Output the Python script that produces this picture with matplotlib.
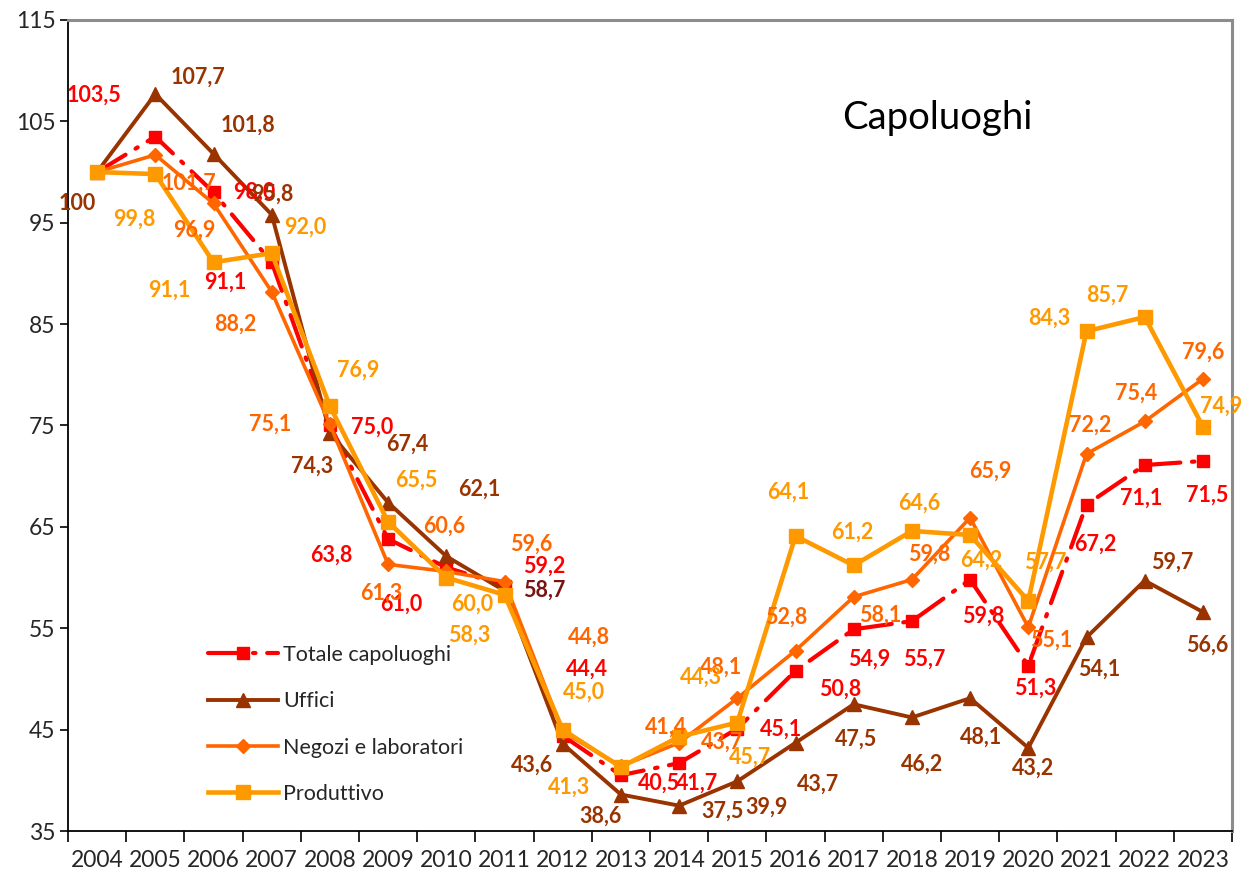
import matplotlib
matplotlib.use('Agg')
import matplotlib.pyplot as plt
from matplotlib.ticker import FixedLocator, NullFormatter, FixedFormatter

plt.rcParams['font.family'] = ['Lato', 'DejaVu Sans']

# ---------------- data ----------------
years = [str(y) for y in range(2004, 2024)]
totale = [100, 103.5, 98.0, 91.1, 75.0, 63.8, 61.0, 59.2, 44.4, 40.5, 41.7, 45.1,
          50.8, 54.9, 55.7, 59.8, 51.3, 67.2, 71.1, 71.5]
uffici = [100, 107.7, 101.8, 95.8, 74.3, 67.4, 62.1, 58.7, 43.6, 38.6, 37.5, 39.9,
          43.7, 47.5, 46.2, 48.1, 43.2, 54.1, 59.7, 56.6]
negozi = [100, 101.7, 96.9, 88.2, 75.1, 61.3, 60.6, 59.6, 44.8, 41.4, 43.7, 48.1,
          52.8, 58.1, 59.8, 65.9, 55.1, 72.2, 75.4, 79.6]
produttivo = [100, 99.8, 91.1, 92.0, 76.9, 65.5, 60.0, 58.3, 45.0, 41.3, 44.3, 45.7,
              64.1, 61.2, 64.6, 64.2, 57.7, 84.3, 85.7, 74.9]
series_names = ['Totale capoluoghi', 'Uffici', 'Negozi e laboratori', 'Produttivo']
yticks = [35, 45, 55, 65, 75, 85, 95, 105, 115]
title = 'Capoluoghi'

# ---------------- label offsets (pixels, +y = up) ----------------
totale_off = [None, (-61, 41), (41, 0), (-46, -20), (42, -2), (-57, -16), (-45, -37),
              (40, 19), (24, 67), (38, -8), (18, -20), (44, -1), (45, -18), (15, -30),
              (12, -38), (13, -37), (7, -22), (9, -40), (-4, -33), (4, -34)]
uffici_off = [(-20, -31), (43, 17), (34, 29), (1, 20), (-18, -34), (19, 58), (33, 67),
              (40, 1), (-31, -21), (-20, -22), (43, -6), (29, -26), (23, -41), (2, -35),
              (10, -47), (11, -39), (5, -20), (13, -32), (28, 18), (4, -33)]
negozi_off = [None, (34, -28), (-19, -27), (-36, -33), (-60, 0), (-7, -29), (-2, 45),
              (27, 37), (26, 94), (45, 39), (43, 1), (-16, 31), (-9, 33), (27, -18),
              (17, 25), (20, 47), (23, -13), (4, 29), (-9, 28), (0, 27)]
prod_off = [None, (-21, -45), (-44, -28), (34, 26), (28, 36), (28, 42), (26, -27),
            (-35, -40), (21, 37), (-52, -20), (22, 60), (13, -35), (-7, 44), (-1, 33),
            (7, 28), (11, -25), (17, 39), (-37, 13), (-37, 22), (18, 20)]

RED = '#FF0000'
BROWN = '#993300'
ORANGE = '#FF6600'
GOLD = '#FF9900'

fig = plt.figure(figsize=(12.47, 8.72), dpi=100)
W, H = 1247, 872
L, R, T, B = 68, 1232, 20, 831
ax = fig.add_axes([L / W, 1 - B / H, (R - L) / W, (B - T) / H])

x = list(range(len(years)))

ax.plot(x, totale, color=RED, lw=3.0, linestyle=(0, (8, 2.8, 0.6, 2.8)),
        marker='s', ms=9, mec=RED, mfc=RED, label=series_names[0], zorder=3,
        dash_capstyle='round')
ax.plot(x, uffici, color=BROWN, lw=2.8, marker='^', ms=10.5, mec=BROWN, mfc=BROWN,
        label=series_names[1], zorder=4)
ax.plot(x, negozi, color=ORANGE, lw=2.6, marker='D', ms=7.5, mec=ORANGE, mfc=ORANGE,
        label=series_names[2], zorder=5)
ax.plot(x, produttivo, color=GOLD, lw=3.3, marker='s', ms=10, mec=GOLD, mfc=GOLD,
        label=series_names[3], zorder=6)


def fmt(v):
    if v == 100:
        return '100'
    return ('%.1f' % v).replace('.', ',')


def add_labels(vals, offs, color, special=None):
    for i, (v, o) in enumerate(zip(vals, offs)):
        if o is None:
            continue
        c = color
        if special and i in special:
            c = special[i]
        ax.annotate(fmt(v), (i, v), xytext=o, textcoords='offset pixels',
                    ha='center', va='center', color=c, fontsize=15.5,
                    fontweight='bold', zorder=10, annotation_clip=False)


add_labels(totale, totale_off, RED)
add_labels(uffici, uffici_off, BROWN, special={7: '#7A1212'})
add_labels(negozi, negozi_off, ORANGE)
add_labels(produttivo, prod_off, GOLD)

# axes
ax.set_xlim(-0.5, len(years) - 0.5)
ax.set_ylim(35, 115)
ax.set_yticks(yticks)
ax.tick_params(axis='y', direction='out', length=6, width=1.2, labelsize=16.5,
               labelcolor='#262626', pad=3)
ax.xaxis.set_major_locator(FixedLocator([i - 0.5 for i in range(len(years) + 1)]))
ax.xaxis.set_major_formatter(NullFormatter())
ax.xaxis.set_minor_locator(FixedLocator(x))
ax.xaxis.set_minor_formatter(FixedFormatter(years))
ax.tick_params(axis='x', which='major', direction='out', length=8, width=1.2)
ax.tick_params(axis='x', which='minor', length=0, labelsize=16.5, labelcolor='#262626',
               pad=14)

for s in ['left', 'bottom']:
    ax.spines[s].set_color('black')
    ax.spines[s].set_linewidth(1.3)
for s in ['top', 'right']:
    ax.spines[s].set_color('#8C8C8C')
    ax.spines[s].set_linewidth(2.2)

ax.text(937 / W, 1 - 118 / H, title, transform=fig.transFigure, ha='center',
        va='center', fontsize=27.5, color='black')

leg = ax.legend(loc='upper left', bbox_to_anchor=(208 / W, 1 - 645 / H),
                bbox_transform=fig.transFigure, frameon=False, fontsize=15.5,
                handlelength=3.25, handletextpad=0.25, labelspacing=1.22,
                borderpad=0, borderaxespad=0)
for t in leg.get_texts():
    t.set_color('#262626')

fig.savefig('out.png', dpi=100)
